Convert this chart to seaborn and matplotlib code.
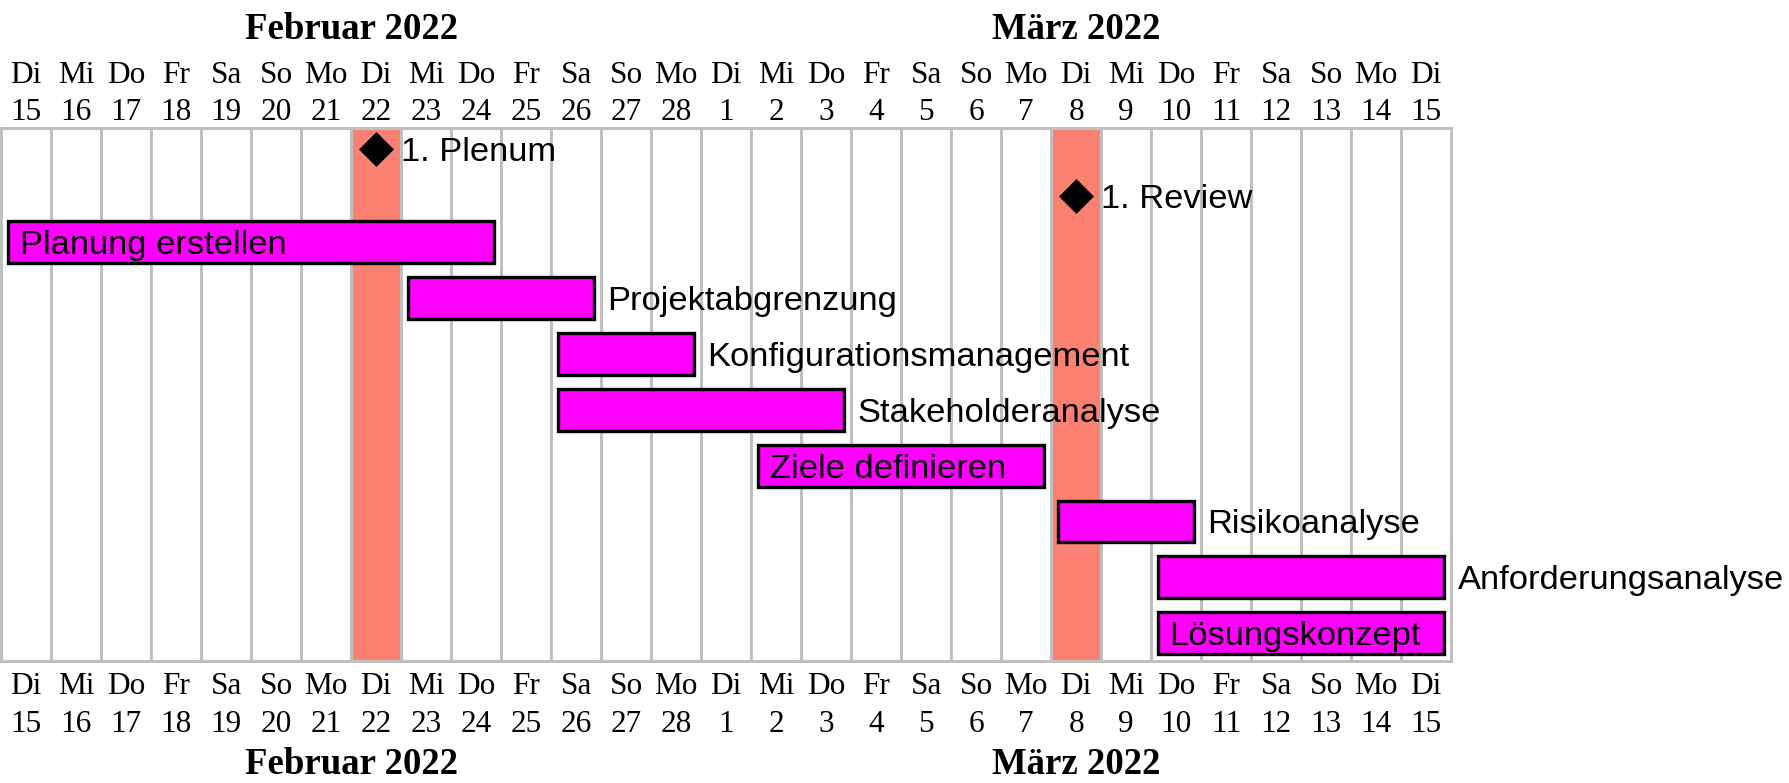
import numpy as np
import pandas as pd
import matplotlib
matplotlib.use("Agg")
import matplotlib.pyplot as plt
import matplotlib.transforms as mtransforms
import seaborn as sns

# calendar shown in the chart
days = pd.date_range("2022-02-15", "2022-03-15", freq="D")
weekday_names = ["Mo", "Di", "Mi", "Do", "Fr", "Sa", "So"]
month_names = {2: "Februar", 3: "März"}

milestone_names = ["1. Plenum", "1. Review"]
milestone_dates = ["2022-02-22", "2022-03-08"]

task_names = [
    "Planung erstellen",
    "Projektabgrenzung",
    "Konfigurationsmanagement",
    "Stakeholderanalyse",
    "Ziele definieren",
    "Risikoanalyse",
    "Anforderungsanalyse",
    "Lösungskonzept",
]
task_starts = ["2022-02-15", "2022-02-23", "2022-02-26", "2022-02-26",
               "2022-03-02", "2022-03-08", "2022-03-10", "2022-03-10"]
task_ends = ["2022-02-24", "2022-02-26", "2022-02-28", "2022-03-03",
             "2022-03-07", "2022-03-10", "2022-03-15", "2022-03-15"]
label_inside = [True, False, False, False, True, False, False, True]

sns.set_theme(style="white")
plt.rcParams["font.family"] = ["Liberation Sans", "DejaVu Sans"]
plt.rcParams["text.color"] = "black"
SERIF = ["Liberation Serif", "DejaVu Serif"]

BAR_COLOR = "#ff00ff"
HIGHLIGHT = "#fa8072"
GRID = "#c0c0c0"
LABEL_SIZE = 24.8


def day_index(d):
    return (pd.Timestamp(d) - days[0]).days


fig = plt.figure(figsize=(17.9, 7.83), dpi=100)
ax = fig.add_axes([0.0006, 1 - 661 / 783, 1450 / 1790, 533 / 783])
n_days = len(days)

# rows: milestones sit a bit tighter than the task bars
ms_y = 0.37 + 0.84 * np.arange(len(milestone_names))
task_y = ms_y[-1] + 0.84 + np.arange(len(task_names))

# highlighted milestone days
for d in milestone_dates:
    i = day_index(d)
    ax.axvspan(i, i + 1, color=HIGHLIGHT, lw=0, zorder=0)

# day grid
for x in range(1, n_days):
    ax.axvline(x, color=GRID, lw=2.2, zorder=1)
for sp in ax.spines.values():
    sp.set_color(GRID)
    sp.set_linewidth(2.2)
    sp.set_visible(True)

# task bars
for name, start, end, inside, y in zip(task_names, task_starts, task_ends, label_inside, task_y):
    left = day_index(start) + 0.13
    right = day_index(end) + 1 - 0.15
    ax.barh(y, right - left, left=left, height=0.75, color=BAR_COLOR,
            edgecolor="black", linewidth=2.4, zorder=2)
    tx = left + 0.24 if inside else right + 0.28
    ax.text(tx, y, name, ha="left", va="center_baseline", fontsize=LABEL_SIZE,
            color="black", zorder=3, clip_on=False)

# milestones
ms_x = np.array([day_index(d) + 0.5 for d in milestone_dates])
sns.scatterplot(x=ms_x, y=ms_y, marker="D", s=317, color="black",
                linewidth=0, ax=ax, zorder=4, legend=False)
for name, x, y in zip(milestone_names, ms_x, ms_y):
    ax.text(x + 0.5, y, name, ha="left", va="center_baseline",
            fontsize=LABEL_SIZE, color="black", zorder=4)

# calendar header and footer
trans = mtransforms.blended_transform_factory(ax.transData, ax.transAxes)
for i, d in enumerate(days):
    for yy in (1.0844, -0.0619):
        ax.text(i + 0.5, yy, weekday_names[d.dayofweek], ha="center", va="baseline",
                fontsize=22.5, family=SERIF, color="black", transform=trans, clip_on=False)
    for yy in (1.015, -0.1332):
        ax.text(i + 0.5, yy, str(d.day), ha="center", va="baseline",
                fontsize=22.5, family=SERIF, color="black", transform=trans, clip_on=False)

for m, grp in pd.Series(np.arange(n_days), index=days).groupby(days.month):
    mid = (grp.min() + grp.max() + 1) / 2
    label = f"{month_names[m]} {days[grp.min()].year}"
    for yy in (1.167, -0.212):
        ax.text(mid, yy, label, ha="center", va="baseline", fontsize=26.5,
                fontweight="bold", family=SERIF, color="black",
                transform=trans, clip_on=False)

ax.set_xticks([])
ax.set_yticks([])
ax.set_xlabel("")
ax.set_ylabel("")
ax.set_xlim(0, n_days)
ax.set_ylim(9.55, 0)

fig.savefig("out.png", dpi=100)
